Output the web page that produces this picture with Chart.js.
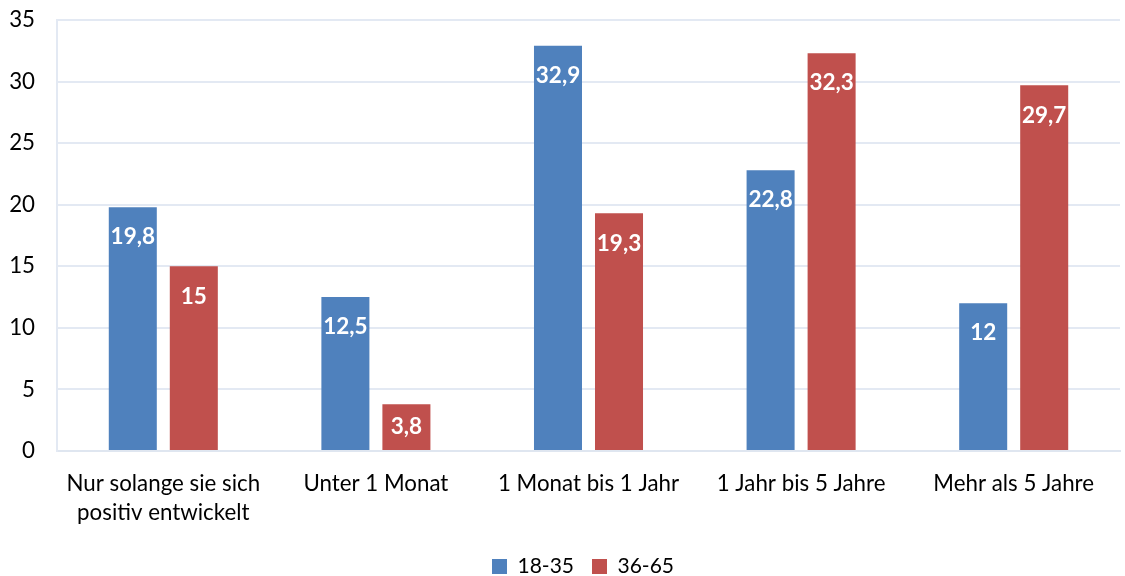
<!DOCTYPE html>
<html>
<head>
<meta charset="utf-8">
<script src="https://cdn.jsdelivr.net/npm/chart.js@4/dist/chart.umd.min.js"></script>
<style>
  html, body { margin: 0; padding: 0; background: #fff; }
  #wrap { width: 1125px; height: 576px; }
</style>
</head>
<body>
<div id="wrap"><canvas id="c"></canvas></div>
<script>
const categories = [
  ['Nur solange sie sich', 'positiv entwickelt'],
  'Unter 1 Monat',
  '1 Monat bis 1 Jahr',
  '1 Jahr bis 5 Jahre',
  'Mehr als 5 Jahre'
];
const seriesNames = ['18-35', '36-65'];
const young = [19.8, 12.5, 32.9, 22.8, 12];
const older = [15, 3.8, 19.3, 32.3, 29.7];
const yTicks = [0, 5, 10, 15, 20, 25, 30, 35];

const fontFamily = 'Lato, "Open Sans", sans-serif';
const textSize = 22.3;

// Writes each bar's value in white bold text near the top of the bar
const valueLabels = {
  id: 'valueLabels',
  afterDatasetsDraw(chart) {
    const ctx = chart.ctx;
    ctx.save();
    ctx.fillStyle = '#ffffff';
    ctx.font = 'bold 22.5px ' + fontFamily;
    ctx.textAlign = 'center';
    ctx.textBaseline = 'middle';
    chart.data.datasets.forEach((ds, i) => {
      chart.getDatasetMeta(i).data.forEach((bar, j) => {
        const v = ds.data[j];
        const h = bar.base - bar.y;
        const y = h > 60 ? bar.y + 30 : bar.y + h / 2;
        ctx.fillText(String(v).replace('.', ','), bar.x, y);
      });
    });
    ctx.restore();
  }
};

// Keeps the legend strip at a fixed height and nudges it under the plot area
const legendPlacement = {
  id: 'legendPlacement',
  beforeInit(chart) {
    const legend = chart.legend;
    if (!legend) return;
    const fit = legend.fit;
    legend.fit = function () { fit.call(this); this.height = 45; };
  },
  afterLayout(chart) {
    const legend = chart.legend;
    if (!legend) return;
    legend.left += 46;
    legend.top += 7;
    legend.bottom += 7;
  }
};

new Chart(document.getElementById('c'), {
  type: 'bar',
  data: {
    labels: categories,
    datasets: [
      { label: seriesNames[0], data: young, backgroundColor: '#4F81BD' },
      { label: seriesNames[1], data: older, backgroundColor: '#C0504D' }
    ]
  },
  options: {
    responsive: true,
    maintainAspectRatio: false,
    animation: false,
    layout: { padding: { left: 0, right: 5, top: 20, bottom: 0 } },
    datasets: { bar: { categoryPercentage: 0.574, barPercentage: 0.787 } },
    scales: {
      x: {
        grid: { display: false },
        border: { color: '#dfe6f0', width: 2 },
        ticks: { color: '#000', font: { family: fontFamily, size: textSize, lineHeight: 1.32 }, padding: 10, maxRotation: 0 },
        afterFit(scale) { scale.paddingLeft = 0; scale.paddingRight = 0; scale.height = 80; }
      },
      y: {
        min: 0, max: 35,
        afterBuildTicks(axis) { axis.ticks = yTicks.map(v => ({ value: v })); },
        grid: { color: '#e3e9f3', lineWidth: 2, drawTicks: false },
        border: { color: '#e3e9f3', width: 2 },
        ticks: { color: '#000', font: { family: fontFamily, size: textSize }, padding: 22 },
        afterFit(scale) { scale.paddingTop = 0; scale.paddingBottom = 0; scale.width = 57; }
      }
    },
    plugins: {
      legend: {
        position: 'bottom',
        labels: { color: '#000', font: { family: fontFamily, size: 21 }, boxWidth: 15, boxHeight: 15, padding: 18 }
      },
      tooltip: { enabled: false }
    }
  },
  plugins: [valueLabels, legendPlacement]
});
</script>
</body>
</html>
